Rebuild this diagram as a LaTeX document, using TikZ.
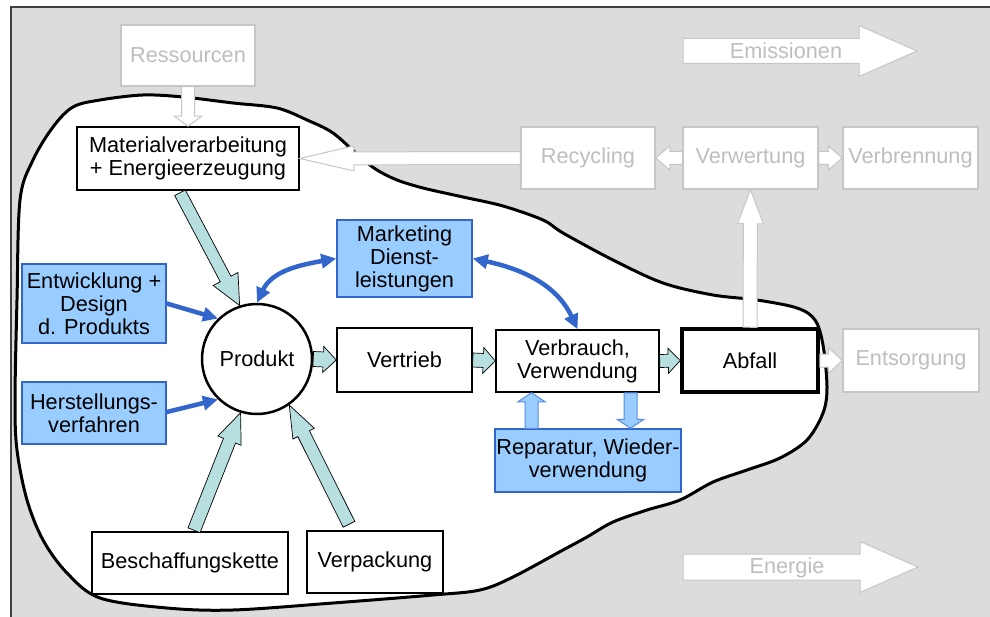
\documentclass[tikz,border=0pt]{standalone}
\usepackage{fontspec}
\setmainfont{Liberation Sans}
\usetikzlibrary{calc,arrows.meta}
\definecolor{bggray}{HTML}{DCDCDC}
\definecolor{framegray}{HTML}{404040}
\definecolor{ghost}{HTML}{BEBEBE}
\definecolor{ghostline}{HTML}{C6C6C6}
\definecolor{tealfill}{RGB}{183,223,224}
\definecolor{lblue}{HTML}{99CCFF}
\definecolor{dblue}{HTML}{3366CC}
\definecolor{mblue}{HTML}{5A8CE6}
\newcommand\blockarr[6]{%
  \coordinate (ba-h) at ($(#3)!#6!(#2)$);
  \draw[#1] ($(#2)!#4!90:(#3)$) -- ($(ba-h)!#4!90:(#3)$) -- ($(ba-h)!#5!90:(#3)$) -- (#3)
    -- ($(ba-h)!#5!-90:(#3)$) -- ($(ba-h)!#4!-90:(#3)$) -- ($(#2)!#4!-90:(#3)$) -- cycle;}
\begin{document}
\begin{tikzpicture}[x=1pt,y=-1pt,
  base/.style={font=\fontsize{21.7}{23}\selectfont, align=center, inner sep=0pt, rectangle},
  bbox/.style={base, draw=black, line width=1.5pt, fill=white},
  gbox/.style={base, draw=ghostline, line width=1.5pt, fill=white, text=ghost},
  ubox/.style={base, draw=dblue, line width=1.5pt, fill=lblue},
  wa/.style={fill=white, draw=ghostline, line width=1pt},
  ta/.style={fill=tealfill, draw=black, line width=0.7pt, line join=miter},
  bla/.style={fill=lblue, draw=mblue, line width=1pt},
  bl/.style={draw=dblue, line width=4.5pt},
  tip/.tip={Triangle[length=15pt,width=14pt]}]
\useasboundingbox (0,0) rectangle (990,617);
\fill[bggray] (11,7) rectangle (990,617);
\draw[framegray, line width=2pt] (11,617) -- (11,7) -- (990,7);

% blob
\draw[line width=3pt, fill=white] plot[smooth cycle, tension=0.55] coordinates {
 (20,200) (33,160) (53,127) (73,107) (100,100) (143,95) (183,97) (233,103) (277,108)
 (307,120) (333,133) (360,157) (377,170) (397,180) (423,188) (463,197) (503,206)
 (543,220) (563,233) (613,260) (663,283) (713,295) (757,300) (797,308) (815,320)
 (823,345) (827,387) (823,413) (807,440) (780,458) (747,470) (713,482) (680,500)
 (647,510) (613,522) (587,537) (563,550) (513,577) (480,590) (433,595) (333,603)
 (233,610) (167,608) (100,598) (67,573) (43,540) (27,500) (17,450) (15,400) (17,300)};

% free block arrows with labels
\coordinate (em-a) at (683,51); \coordinate (em-b) at (917,51);
\blockarr{wa}{em-a}{em-b}{12.5pt}{25.5pt}{58pt}
\node[base, text=ghost] (emi) at (786,51) {Emissionen};
\coordinate (en-a) at (683,567); \coordinate (en-b) at (918,567);
\blockarr{wa}{en-a}{en-b}{13pt}{25.5pt}{58pt}
\node[base, text=ghost] (ene) at (787,568) {Energie};

% nodes
\node[gbox, minimum width=134pt, minimum height=61pt] (res) at (188,55.5) {Ressourcen};
\node[bbox, minimum width=222pt, minimum height=63pt] (mat) at (188,158.5) {Materialverarbeitung\\+ Energieerzeugung};
\node[gbox, minimum width=134pt, minimum height=62pt] (rec) at (588,158) {Recycling};
\node[gbox, minimum width=135pt, minimum height=62pt] (verw) at (750.5,158) {Verwertung};
\node[gbox, minimum width=135pt, minimum height=62pt] (verb) at (910.5,158) {Verbrennung};
\node[gbox, minimum width=136pt, minimum height=63pt] (ents) at (911,360.5) {Entsorgung};
\node[bbox, line width=3.5pt, minimum width=136pt, minimum height=63pt] (abf) at (750,360.5) {Abfall};
\node[bbox, minimum width=163pt, minimum height=62pt] (verbr) at (577.5,361) {Verbrauch,\\Verwendung};
\node[bbox, minimum width=135pt, minimum height=64pt] (vertr) at (404.5,360) {Vertrieb};
\node[base, circle, draw=black, line width=2.5pt, fill=white, minimum size=110pt] (prod) at (257,359) {Produkt};
\node[ubox, minimum width=135pt, minimum height=77pt] (mkt) at (404.5,258.5) {Marketing\\Dienst-\\leistungen};
\node[ubox, minimum width=144pt, minimum height=79pt] (entw) at (94,303.5) {Entwicklung +\\Design\\d. Produkts};
\node[ubox, minimum width=144pt, minimum height=62pt] (herst) at (94,413) {Herstellungs-\\verfahren};
\node[ubox, minimum width=186pt, minimum height=63pt] (rep) at (588,460.5) {Reparatur, Wieder-\\verwendung};
\node[bbox, minimum width=196pt, minimum height=62pt] (besch) at (190,563) {Beschaffungskette};
\node[bbox, minimum width=136pt, minimum height=62pt] (verp) at (375,562) {Verpackung};

% white (grey outlined) block arrows
\blockarr{wa}{res.south}{mat.north}{6.5pt}{13.5pt}{10pt}
\blockarr{wa}{rec.west}{mat.east}{6.5pt}{12.5pt}{54pt}
\blockarr{wa}{verw.west}{rec.east}{6.5pt}{12pt}{14pt}
\blockarr{wa}{verw.east}{verb.west}{6.5pt}{12pt}{14pt}
\blockarr{wa}{abf.north}{verw.south}{7pt}{13pt}{34pt}
\blockarr{wa}{abf.east}{ents.west}{6.5pt}{13pt}{14pt}

% teal block arrows
\coordinate (mat-s) at ($(mat.south)+(-8,2)$);
\coordinate (besch-n) at ($(besch.north)+(4,-1)$);
\coordinate (verp-n) at ($(verp.north)+(-26,-6)$);
\blockarr{ta}{mat-s}{prod.108}{6pt}{14pt}{30pt}
\blockarr{ta}{besch-n}{prod.253}{6.5pt}{12.5pt}{30pt}
\blockarr{ta}{verp-n}{prod.-55}{6.5pt}{12pt}{32pt}
\blockarr{ta}{prod.east}{vertr.west}{7.5pt}{13pt}{13pt}
\blockarr{ta}{vertr.east}{verbr.west}{7pt}{13pt}{12pt}
\blockarr{ta}{verbr.east}{abf.west}{6.5pt}{12.5pt}{12pt}

% light blue block arrows
\coordinate (rp-u) at ($(rep.north)+(-56.5,0)$);
\coordinate (vb-u) at ($(verbr.south)+(-46,0)$);
\coordinate (vb-d) at ($(verbr.south)+(53,0)$);
\coordinate (rp-d) at ($(rep.north)+(42.5,0)$);
\blockarr{bla}{rp-u}{vb-u}{6.5pt}{13.5pt}{9pt}
\blockarr{bla}{vb-d}{rp-d}{6.5pt}{13.5pt}{9pt}

% blue line arrows
\draw[bl, -tip] (entw.east) -- (prod.134);
\draw[bl, -tip] ($(herst.east)+(0,-1)$) -- (prod.226);
\draw[bl, tip-tip] (prod.north) to[out=65,in=190] (mkt.west);
\draw[bl, tip-tip] (mkt.east) to[out=-12,in=115] (verbr.north);
\end{tikzpicture}
\end{document}
